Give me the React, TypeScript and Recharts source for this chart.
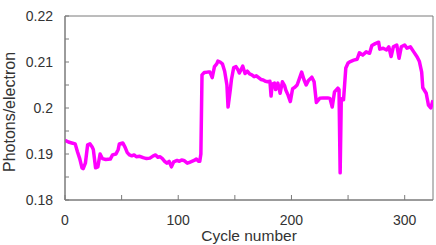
import { LineChart, Line, XAxis, YAxis, ReferenceArea } from "recharts";

const cycles = [
  0, 3, 6, 9, 11, 13, 15, 16, 18, 20, 22, 24, 25, 27, 29, 31, 33, 36, 40, 42, 45, 47, 48, 51, 53, 55, 57, 59,
  61, 63, 66, 69, 72, 75, 78, 80, 82, 84, 86, 88, 90, 92, 94, 96, 99, 101, 103, 105, 108, 110, 112, 114, 116,
  118, 119, 120, 121, 123, 126, 128, 130, 132, 134, 135, 137, 139, 141, 143, 144, 146, 147, 149, 151, 153, 154,
  156, 157, 159, 161, 163, 165, 167, 169, 171, 173, 175, 177, 179, 181, 182, 183, 185, 186, 188, 190, 192, 194,
  195, 197, 199, 201, 203, 205, 207, 209, 211, 213, 215, 218, 220, 222, 225, 228, 232, 234, 236, 238, 241, 242,
  243, 244, 246, 248, 250, 252, 255, 258, 260, 263, 266, 269, 271, 274, 277, 278, 281, 284, 286, 288, 290, 293,
  295, 297, 300, 302, 305, 308, 311, 313, 315, 316, 319, 321, 323, 325,
];

const photons = [
  0.193, 0.1926, 0.1924, 0.1922, 0.1905, 0.189, 0.187, 0.1868, 0.188, 0.192, 0.1922, 0.1915, 0.191, 0.187,
  0.1872, 0.19, 0.189, 0.1888, 0.1889, 0.1898, 0.19, 0.191, 0.1922, 0.1924, 0.1915, 0.1903, 0.1898, 0.1896,
  0.1898, 0.1894, 0.1895, 0.1892, 0.189, 0.1891, 0.1896, 0.1898, 0.1893, 0.1894, 0.189, 0.1884, 0.188, 0.1884,
  0.1872, 0.1883, 0.1886, 0.1884, 0.1887, 0.1886, 0.188, 0.1882, 0.1884, 0.1886, 0.1889, 0.1884, 0.1884, 0.19,
  0.2072, 0.2077, 0.2078, 0.2078, 0.2066, 0.209, 0.2096, 0.2102, 0.21, 0.2096, 0.208, 0.205, 0.2002, 0.204,
  0.2062, 0.2088, 0.209, 0.2082, 0.2076, 0.2086, 0.2091, 0.2075, 0.208, 0.2074, 0.2072, 0.2068, 0.207, 0.2066,
  0.2062, 0.2061, 0.2058, 0.2057, 0.2058, 0.2026, 0.2052, 0.2054, 0.204, 0.2054, 0.2032, 0.2057, 0.2048, 0.2039,
  0.2028, 0.2014, 0.2042, 0.2045, 0.205, 0.2064, 0.2078, 0.2062, 0.205, 0.206, 0.2067, 0.2057, 0.2012, 0.2021,
  0.2022, 0.2022, 0.2021, 0.2002, 0.2035, 0.2043, 0.204, 0.1859, 0.202, 0.2018, 0.2087, 0.2098, 0.2101, 0.2104,
  0.2106, 0.212, 0.2115, 0.2122, 0.2119, 0.2136, 0.214, 0.2143, 0.2128, 0.213, 0.2126, 0.2133, 0.2112, 0.2133,
  0.2137, 0.2108, 0.2133, 0.2137, 0.213, 0.2133, 0.2122, 0.2111, 0.2101, 0.2078, 0.2044, 0.2032, 0.2006, 0.2,
  0.2017,
];

const xTicks = [0, 50, 100, 150, 200, 250, 300];
const yTicks = [0.18, 0.185, 0.19, 0.195, 0.2, 0.205, 0.21, 0.215, 0.22];

const data = cycles.map((c, i) => ({ cycle: c, value: photons[i] }));

const FONT = "'Liberation Sans', Arial, Helvetica, sans-serif";
const AXIS = "#7a7a7a";
const TEXT = "#333";

export default function App() {
  return (
    <div style={{ position: "absolute", left: 0, top: 0, width: 436, height: 245, background: "#fff" }}>
      <LineChart
        width={436}
        height={245}
        data={data}
        margin={{ top: 16, right: 3, bottom: 0, left: 0 }}
        style={{ fontFamily: FONT }}
      >
        <ReferenceArea
          x1={0}
          x2={325}
          y1={0.18}
          y2={0.22}
          fill="none"
          fillOpacity={0}
          stroke={AXIS}
          strokeWidth={1}
          ifOverflow="visible"
        />
        <XAxis
          dataKey="cycle"
          type="number"
          domain={[0, 325]}
          ticks={xTicks}
          interval={0}
          height={45}
          tickSize={-5}
          tickMargin={20}
          stroke={AXIS}
          tick={{ fill: TEXT, fontSize: 14, fontFamily: FONT }}
          tickFormatter={(v: number) => (v % 100 === 0 ? String(v) : "")}
          allowDataOverflow
        />
        <YAxis
          type="number"
          domain={[0.18, 0.22]}
          ticks={yTicks}
          interval={0}
          width={65}
          tickSize={-4}
          tickMargin={16}
          stroke={AXIS}
          tick={{ fill: TEXT, fontSize: 14, fontFamily: FONT }}
          tickFormatter={(v: number) => (Math.round(v * 1000) % 10 === 0 ? String(Number(v.toFixed(3))) : "")}
          allowDataOverflow
        />
        <Line
          type="linear"
          dataKey="value"
          stroke="#ff00ff"
          strokeWidth={3.5}
          strokeLinejoin="round"
          dot={false}
          isAnimationActive={false}
        />
        <text
          x={15}
          y={112}
          transform="rotate(-90, 15, 112)"
          textAnchor="middle"
          fontSize={16}
          fill={TEXT}
          fontFamily={FONT}
        >
          Photons/electron
        </text>
        <text x={249} y={241} textAnchor="middle" fontSize={15.5} fill={TEXT} fontFamily={FONT}>
          Cycle number
        </text>
      </LineChart>
    </div>
  );
}
